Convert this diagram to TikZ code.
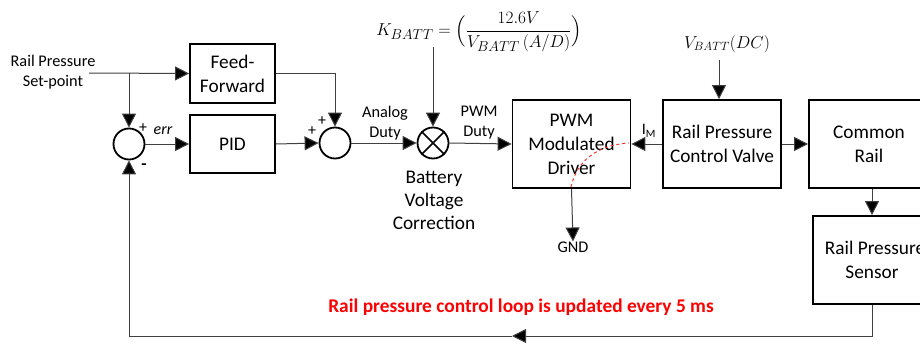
\documentclass[tikz,border=0pt]{standalone}
\usepackage{fontspec}
\setmainfont{Carlito}
\usepackage{amsmath}
\usetikzlibrary{arrows.meta}
\begin{document}
\begin{tikzpicture}[x=1pt,y=-1pt,
  blk/.style={draw=black,line width=1.8pt,align=center,inner sep=0pt,
    font=\fontsize{19.3}{24}\selectfont},
  sumc/.style={draw=black,line width=1.8pt,circle,minimum size=31pt,inner sep=0pt},
  lbl/.style={align=center,inner sep=0pt,font=\fontsize{16.3}{20}\selectfont},
  big/.style={align=center,inner sep=0pt,font=\fontsize{19.3}{23}\selectfont},
  conn/.style={draw=black!75,line width=1pt},
  arr/.style={conn,-{Triangle[length=14pt,width=14pt,fill=black]}}]
\useasboundingbox (0,0) rectangle (920,345);
\fill[white] (0,0) rectangle (920,345);
\clip (0,0) rectangle (920,345);

% blocks
\node[blk,minimum width=85pt,minimum height=59pt] (ff) at (232.5,73.5) {Feed-\\Forward};
\node[blk,minimum width=85pt,minimum height=58pt] (pid) at (232.5,144) {PID};
\node[sumc] (s1) at (129,144) {};
\node[sumc] (s2) at (335,143) {};
\node[sumc] (mul) at (433,143) {};
\draw[line width=1.6pt] (mul.north east) -- (mul.south west) (mul.north west) -- (mul.south east);
\node[blk,minimum width=118pt,minimum height=88pt] (pwm) at (571.5,144) {PWM\\Modulated\\Driver};
\node[blk,minimum width=118pt,minimum height=88pt] (rpcv) at (722,144) {Rail Pressure\\Control Valve};
\node[blk,minimum width=126pt,minimum height=88pt] (cr) at (872,144) {\hspace*{-6pt}Common\\\hspace*{-6pt}Rail};
\node[blk,minimum width=118pt,minimum height=88pt] (sen) at (872,260) {\hspace*{6pt}Rail Pressure\\Sensor};

% texts
\node[lbl] (inlbl) at (53,72) {Rail Pressure\\Set-point};
\node[lbl] (ad) at (385,123) {Analog\\Duty};
\node[lbl] (pd) at (479,123) {PWM\\Duty};
\node[big] (bvc) at (434,200) {Battery\\Voltage\\Correction};
\node[lbl] (gnd) at (573,247) {GND};
\node[inner sep=0pt,font=\fontsize{16}{18}\selectfont] (im) at (649,131) {I\textsubscript{M}};
\node[inner sep=0pt,font=\fontsize{19}{22}\selectfont] (kb) at (479,32)
  {$K_{BATT}=\Bigl(\dfrac{12.6V}{V_{BATT}\,(A/D)}\Bigr)$};
\node[inner sep=0pt,font=\fontsize{17}{20}\selectfont] (vb) at (727,44) {$V_{BATT}(DC)$};
\node[inner sep=0pt,font=\fontsize{16}{18}\selectfont] (p1) at (143,128) {+};
\node[inner sep=0pt,font=\bfseries\fontsize{17}{18}\selectfont] (m1) at (144,167) {-};
\node[inner sep=0pt,font=\itshape\fontsize{16}{18}\selectfont] (err) at (163,131) {err};
\node[inner sep=0pt,font=\fontsize{16}{18}\selectfont] (p2) at (312,131) {+};
\node[inner sep=0pt,font=\fontsize{16}{18}\selectfont] (p3) at (322,121) {+};
\node[inner sep=0pt,text=red,font=\bfseries\fontsize{19.4}{22}\selectfont] (note) at (521,307)
  {Rail pressure control loop is updated every 5 ms};

% connectors
\coordinate (in) at (89,73);
\coordinate (br) at (129,73);
\coordinate (kt) at (433,47);
\coordinate (vt) at (719,60);
\coordinate (fb1) at (872,336);
\coordinate (fbm) at (512,336);

\draw[arr] (in) -- (ff.west);
\draw[arr] (br) -- (s1.north);
\draw[arr] (s1.east) -- (pid.west);
\draw[arr] (pid.east) -- (s2.west);
\draw[arr] (ff.east) -| (s2.north);
\draw[arr] (s2.east) -- (mul.west);
\draw[arr] (kt) -- (mul.north);
\draw[arr] (mul.east) -- (pwm.west);
\draw[arr] (pwm.south) -- (gnd.north);
\draw[arr] (rpcv.west) -- (pwm.east);
\draw[arr] (vt) -- (vt |- rpcv.north);
\draw[arr] (rpcv.east) -- (cr.west);
\draw[arr] (cr.south) -- (sen.north);
\draw[arr] (sen.south) -- (fb1) -- (fbm);
\draw[arr] (fbm) -| (s1.south);

% red dashed curve
\draw[red!85,dashed,line width=0.9pt] (571,187) .. controls (577,160) and (598,145) .. (629,143);
\end{tikzpicture}
\end{document}
